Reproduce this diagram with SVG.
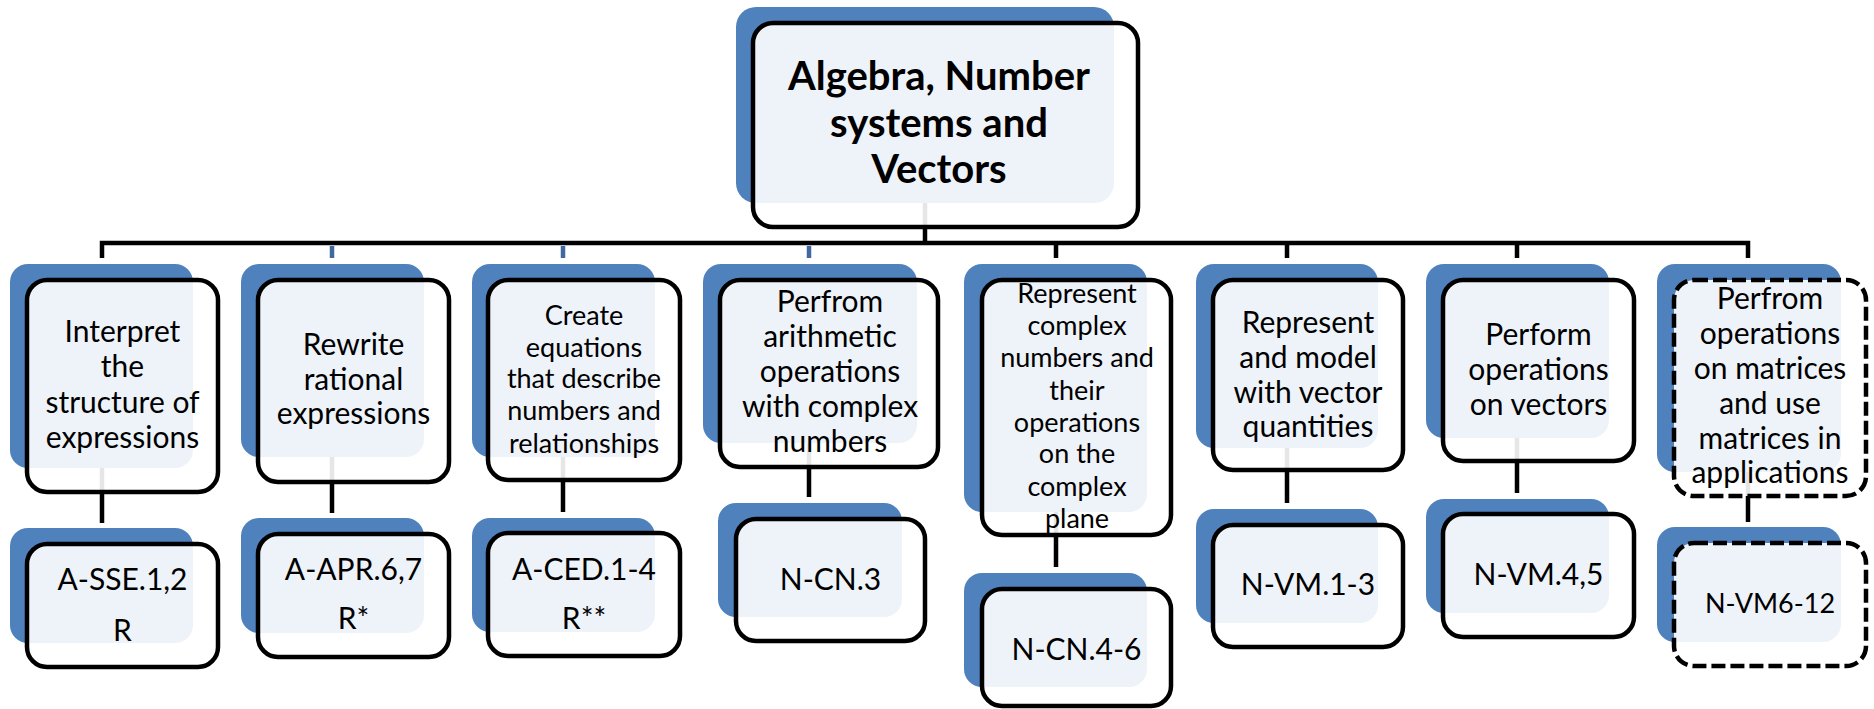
<svg xmlns="http://www.w3.org/2000/svg" width="1874" height="709" viewBox="0 0 1874 709">
<style>
.bl{fill:#4F81BD}
.bx{fill:#fff;fill-opacity:0.9;stroke:#000;stroke-width:4.5}
.dash{stroke-dasharray:14 5}
.t{font-family:Lato,"Liberation Sans",sans-serif;font-size:30px;text-anchor:middle;fill:#000}
.s{font-size:27px}
.ttl{font-weight:bold;font-size:40px}
.cn{stroke:#000;stroke-width:4.5;fill:none}
.cb{stroke:#41689F;stroke-width:4.5;fill:none}
</style>
<rect width="1874" height="709" fill="#fff"/>
<g id="connectors">
<path class="cn" d="M925,203V243"/>
<path class="cn" d="M102,258V243H1748V258"/>
<path class="cn" d="M1056,243V258M1287,243V258M1517,243V258"/>
<path class="cb" d="M332,246V258M563,246V258M809,246V258"/>
<path class="cn" d="M102,468V523M332,457V513M563,457V512M809,443V497M1056,512V567M1287,448V503M1517,438V493M1748,472V522"/>
</g>
<g id="root">
<rect class="bl" x="736" y="7" width="378" height="196" rx="20"/>
<rect class="bx" x="753" y="23" width="385" height="204" rx="20"/>
<text class="t ttl" x="939" y="90">Algebra, Number</text>
<text class="t ttl" x="939" y="137">systems and</text>
<text class="t ttl" x="939" y="183">Vectors</text>
</g>
<g id="n1">
<rect class="bl" x="10" y="264" width="183" height="204" rx="18"/>
<rect class="bx" x="27" y="280" width="191" height="212" rx="20"/>
<text class="t" x="122.5" y="342">Interpret</text>
<text class="t" x="122.5" y="377">the</text>
<text class="t" x="122.5" y="413">structure of</text>
<text class="t" x="122.5" y="448">expressions</text>
</g>
<g id="n2">
<rect class="bl" x="241" y="264" width="183" height="193" rx="18"/>
<rect class="bx" x="258" y="280" width="191" height="202" rx="20"/>
<text class="t" x="353.5" y="355">Rewrite</text>
<text class="t" x="353.5" y="390">rational</text>
<text class="t" x="353.5" y="424">expressions</text>
</g>
<g id="n3">
<rect class="bl" x="472" y="264" width="183" height="193" rx="18"/>
<rect class="bx" x="488" y="280" width="192" height="200" rx="20"/>
<text class="t s" x="584" y="325">Create</text>
<text class="t s" x="584" y="357">equations</text>
<text class="t s" x="584" y="388">that describe</text>
<text class="t s" x="584" y="420">numbers and</text>
<text class="t s" x="584" y="453">relationships</text>
</g>
<g id="n4">
<rect class="bl" x="703" y="264" width="214" height="179" rx="18"/>
<rect class="bx" x="720" y="280" width="218" height="187" rx="20"/>
<text class="t" x="830" y="312">Perfrom</text>
<text class="t" x="830" y="347">arithmetic</text>
<text class="t" x="830" y="382">operations</text>
<text class="t" x="830" y="417">with complex</text>
<text class="t" x="830" y="452">numbers</text>
</g>
<g id="n5">
<rect class="bl" x="964" y="264" width="183" height="248" rx="18"/>
<rect class="bx" x="982" y="280" width="189" height="255" rx="20"/>
<text class="t s" x="1077" y="303">Represent</text>
<text class="t s" x="1077" y="335">complex</text>
<text class="t s" x="1077" y="367">numbers and</text>
<text class="t s" x="1077" y="400">their</text>
<text class="t s" x="1077" y="432">operations</text>
<text class="t s" x="1077" y="463">on the</text>
<text class="t s" x="1077" y="496">complex</text>
<text class="t s" x="1077" y="528">plane</text>
</g>
<g id="n6">
<rect class="bl" x="1196" y="264" width="182" height="184" rx="18"/>
<rect class="bx" x="1213" y="280" width="190" height="190" rx="20"/>
<text class="t" x="1308" y="333">Represent</text>
<text class="t" x="1308" y="368">and model</text>
<text class="t" x="1308" y="403">with vector</text>
<text class="t" x="1308" y="437">quantities</text>
</g>
<g id="n7">
<rect class="bl" x="1426" y="264" width="183" height="174" rx="18"/>
<rect class="bx" x="1443" y="280" width="191" height="181" rx="20"/>
<text class="t" x="1538.5" y="345">Perform</text>
<text class="t" x="1538.5" y="380">operations</text>
<text class="t" x="1538.5" y="415">on vectors</text>
</g>
<g id="n8">
<rect class="bl" x="1657" y="264" width="184" height="208" rx="18"/>
<rect class="bx dash" x="1674" y="280" width="192" height="216" rx="20"/>
<text class="t" x="1770" y="309">Perfrom</text>
<text class="t" x="1770" y="344">operations</text>
<text class="t" x="1770" y="379">on matrices</text>
<text class="t" x="1770" y="414">and use</text>
<text class="t" x="1770" y="449">matrices in</text>
<text class="t" x="1770" y="483">applications</text>
</g>
<g id="c1">
<rect class="bl" x="10" y="528" width="183" height="115" rx="18"/>
<rect class="bx" x="27" y="544" width="191" height="123" rx="20"/>
<text class="t" x="122.5" y="590">A-SSE.1,2</text>
<text class="t" x="122.5" y="641">R</text>
</g>
<g id="c2">
<rect class="bl" x="241" y="518" width="183" height="115" rx="18"/>
<rect class="bx" x="258" y="534" width="191" height="123" rx="20"/>
<text class="t" x="353.5" y="580">A-APR.6,7</text>
<text class="t" x="353.5" y="629">R*</text>
</g>
<g id="c3">
<rect class="bl" x="472" y="518" width="183" height="114" rx="18"/>
<rect class="bx" x="488" y="533" width="192" height="123" rx="20"/>
<text class="t" x="584" y="580">A-CED.1-4</text>
<text class="t" x="584" y="629">R**</text>
</g>
<g id="c4">
<rect class="bl" x="718" y="503" width="184" height="114" rx="18"/>
<rect class="bx" x="736" y="519" width="189" height="122" rx="20"/>
<text class="t" x="830.5" y="590">N-CN.3</text>
</g>
<g id="c5">
<rect class="bl" x="964" y="573" width="183" height="114" rx="18"/>
<rect class="bx" x="982" y="589" width="189" height="117" rx="20"/>
<text class="t" x="1076.5" y="660">N-CN.4-6</text>
</g>
<g id="c6">
<rect class="bl" x="1196" y="509" width="182" height="114" rx="18"/>
<rect class="bx" x="1213" y="525" width="190" height="122" rx="20"/>
<text class="t" x="1308" y="595">N-VM.1-3</text>
</g>
<g id="c7">
<rect class="bl" x="1426" y="499" width="183" height="114" rx="18"/>
<rect class="bx" x="1443" y="514" width="191" height="123" rx="20"/>
<text class="t" x="1538.5" y="585">N-VM.4,5</text>
</g>
<g id="c8">
<rect class="bl" x="1657" y="527" width="184" height="115" rx="18"/>
<rect class="bx dash" x="1674" y="543" width="192" height="123" rx="20"/>
<text class="t s" x="1770" y="613">N-VM6-12</text>
</g>
</svg>
